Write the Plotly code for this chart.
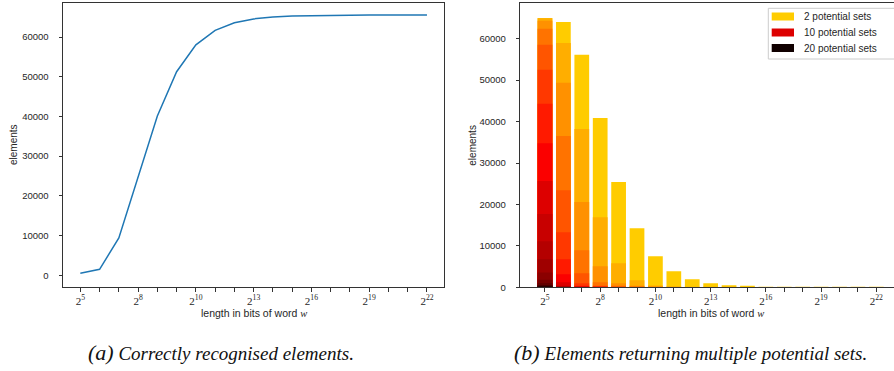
import plotly.graph_objects as go

W, H = 894, 371

# ---------------- data ----------------
positions = list(range(19))
tick_labels = ["2<sup>5</sup>", "", "", "2<sup>8</sup>", "", "", "2<sup>10</sup>", "", "",
               "2<sup>13</sup>", "", "", "2<sup>16</sup>", "", "", "2<sup>19</sup>", "", "", "2<sup>22</sup>"]

recognised = [536, 1500, 9400, 24650, 40130, 51270, 58040, 61670, 63600, 64570,
              65050, 65300, 65420, 65480, 65510, 65525, 65530, 65534, 65535]

# elements returning at least k potential sets (per word length)
ge_2 = [65000, 64030, 56130, 40890, 25400, 14270, 7500, 3870, 1940, 970, 480, 240, 120, 60, 30, 15, 8, 4, 2]
ge_3 = [64950, 59000, 38200, 16900, 5800, 1700, 450, 120, 30, 8, 2, 0, 0, 0, 0, 0, 0, 0, 0]
ge_4 = [64350, 49350, 20600, 5100, 950, 180, 25, 5, 1, 0, 0, 0, 0, 0, 0, 0, 0, 0, 0]
ge_5 = [62400, 36500, 8950, 1200, 150, 20, 2, 0, 0, 0, 0, 0, 0, 0, 0, 0, 0, 0, 0]
ge_6 = [58550, 23450, 3400, 250, 20, 2, 0, 0, 0, 0, 0, 0, 0, 0, 0, 0, 0, 0, 0]
ge_7 = [52500, 13300, 970, 50, 3, 0, 0, 0, 0, 0, 0, 0, 0, 0, 0, 0, 0, 0, 0]
ge_8 = [44300, 6770, 300, 10, 0, 0, 0, 0, 0, 0, 0, 0, 0, 0, 0, 0, 0, 0, 0]
ge_9 = [34800, 3140, 80, 2, 0, 0, 0, 0, 0, 0, 0, 0, 0, 0, 0, 0, 0, 0, 0]
ge_10 = [25650, 1210, 20, 0, 0, 0, 0, 0, 0, 0, 0, 0, 0, 0, 0, 0, 0, 0, 0]
ge_11 = [17700, 320, 5, 0, 0, 0, 0, 0, 0, 0, 0, 0, 0, 0, 0, 0, 0, 0, 0]
ge_12 = [11100, 90, 1, 0, 0, 0, 0, 0, 0, 0, 0, 0, 0, 0, 0, 0, 0, 0, 0]
ge_13 = [6750, 20, 0, 0, 0, 0, 0, 0, 0, 0, 0, 0, 0, 0, 0, 0, 0, 0, 0]
ge_14 = [3600, 5, 0, 0, 0, 0, 0, 0, 0, 0, 0, 0, 0, 0, 0, 0, 0, 0, 0]
ge_15 = [1850, 1, 0, 0, 0, 0, 0, 0, 0, 0, 0, 0, 0, 0, 0, 0, 0, 0, 0]
ge_16 = [1050, 0, 0, 0, 0, 0, 0, 0, 0, 0, 0, 0, 0, 0, 0, 0, 0, 0, 0]
ge_17 = [550, 0, 0, 0, 0, 0, 0, 0, 0, 0, 0, 0, 0, 0, 0, 0, 0, 0, 0]
ge_18 = [280, 0, 0, 0, 0, 0, 0, 0, 0, 0, 0, 0, 0, 0, 0, 0, 0, 0, 0]
ge_19 = [130, 0, 0, 0, 0, 0, 0, 0, 0, 0, 0, 0, 0, 0, 0, 0, 0, 0, 0]
ge_20 = [60, 0, 0, 0, 0, 0, 0, 0, 0, 0, 0, 0, 0, 0, 0, 0, 0, 0, 0]

set_counts = list(range(2, 21))
series = [ge_2, ge_3, ge_4, ge_5, ge_6, ge_7, ge_8, ge_9, ge_10, ge_11,
          ge_12, ge_13, ge_14, ge_15, ge_16, ge_17, ge_18, ge_19, ge_20]
legend_sets = [2, 10, 20]
y_ticks = [0, 10000, 20000, 30000, 40000, 50000, 60000]
y_tick_labels = ["0", "10000", "20000", "30000", "40000", "50000", "60000"]


# ---------------- style helpers ----------------
def hot_color(k):
    if k <= 10:
        t = 0.665 - (k - 2) * (0.665 - 0.316) / 8
    else:
        t = 0.316 - (k - 10) * (0.316 - 0.023) / 10
    r = min(1, max(0, t / 0.365))
    g = min(1, max(0, (t - 0.365) / 0.375))
    b = min(1, max(0, (t - 0.746) / 0.254))
    return "rgb(%d,%d,%d)" % (round(r * 255), round(g * 255), round(b * 255))


def px(x):
    return x / W


def py(y):
    return 1 - y / H


TXT = "#262626"
AX = "#333333"
SANS = "Liberation Sans, Arial, sans-serif"
SERIF = "Liberation Serif, DejaVu Serif, serif"

fig = go.Figure()

fig.add_trace(go.Scatter(x=positions, y=recognised, mode="lines",
                         line=dict(color="#1f77b4", width=1.5),
                         xaxis="x", yaxis="y", showlegend=False, hoverinfo="skip"))

for k, vals in zip(set_counts, series):
    fig.add_trace(go.Bar(x=positions, y=vals, width=0.8,
                         marker=dict(color=hot_color(k), line=dict(width=0)),
                         xaxis="x2", yaxis="y2", showlegend=False, hoverinfo="skip"))

common_x = dict(tickmode="array", tickvals=positions, ticktext=tick_labels,
                ticks="outside", ticklen=3.5, tickwidth=1, tickcolor=AX,
                showline=True, linecolor=AX, linewidth=1, showgrid=False, zeroline=False,
                automargin=False, ticklabeloverflow="allow",
                tickfont=dict(family=SERIF, size=11, color=TXT))
common_y = dict(tickmode="array", tickvals=y_ticks, ticktext=y_tick_labels,
                ticks="outside", ticklen=3.5, ticklabelstandoff=8,
                tickwidth=1, tickcolor=AX, showline=True, linecolor=AX, linewidth=1,
                showgrid=False, zeroline=False, automargin=False,
                tickfont=dict(family=SANS, size=9.5, color=TXT))

fig.update_layout(
    template="none",
    width=W, height=H, margin=dict(l=0, r=0, t=0, b=0, pad=0),
    paper_bgcolor="white", plot_bgcolor="white", barmode="overlay",
    xaxis=dict(domain=[px(63), px(444.3)], range=[-0.9, 18.9], mirror=True, anchor="y", **common_x),
    yaxis=dict(domain=[py(287), py(3.3)], range=[-2950, 68500], mirror=True, anchor="x", **common_y),
    xaxis2=dict(domain=[px(520.3), 1.0], range=[-1.34, 18.96], mirror=True, anchor="y2", **common_x),
    yaxis2=dict(domain=[py(287.3), py(2.7)], range=[0, 68700], mirror=False, anchor="x2", **common_y),
)

ann = []
ytitle_font = dict(family=SANS, size=10, color=TXT)
xtitle_font = dict(family=SANS, size=10.5, color=TXT)
wtxt = "length in bits of word <span style='font-family:Liberation Serif;font-style:italic'>w</span>"
ann.append(dict(x=px(13), y=py(145), xref="paper", yref="paper", text="elements", textangle=-90,
                showarrow=False, font=ytitle_font, xanchor="center", yanchor="middle"))
ann.append(dict(x=px(471.7), y=py(145), xref="paper", yref="paper", text="elements", textangle=-90,
                showarrow=False, font=ytitle_font, xanchor="center", yanchor="middle"))
ann.append(dict(x=px(253.6), y=py(313), xref="paper", yref="paper", text=wtxt,
                showarrow=False, font=xtitle_font, xanchor="center", yanchor="middle"))
ann.append(dict(x=px(710.5), y=py(313), xref="paper", yref="paper", text=wtxt,
                showarrow=False, font=xtitle_font, xanchor="center", yanchor="middle"))

cap_font = dict(family=SERIF, size=19, color="#111111")
ann.append(dict(x=px(221), y=py(352), xref="paper", yref="paper",
                text="<i><span style='font-size:22px'>(a)</span> Correctly recognised elements.</i>",
                showarrow=False, font=cap_font, xanchor="center", yanchor="middle"))
ann.append(dict(x=px(690), y=py(352), xref="paper", yref="paper",
                text="<i><span style='font-size:22px'>(b)</span> Elements returning multiple potential sets.</i>",
                showarrow=False, font=cap_font, xanchor="center", yanchor="middle"))

# legend (custom, matching the matplotlib patches)
shapes = [dict(type="rect", xref="paper", yref="paper", x0=px(768.3), x1=px(905),
               y0=py(59), y1=py(8.3), line=dict(color="#cccccc", width=1), fillcolor="white",
               layer="above")]
centers = [16.5, 32.5, 48.0]
for k, cy in zip(legend_sets, centers):
    shapes.append(dict(type="rect", xref="paper", yref="paper", x0=px(771.7), x1=px(794),
                       y0=py(cy + 4), y1=py(cy - 4), line=dict(width=0),
                       fillcolor=hot_color(k), layer="above"))
    ann.append(dict(x=px(802), y=py(cy), xref="paper", yref="paper",
                    text="%d potential sets" % k, showarrow=False,
                    font=dict(family=SANS, size=10, color=TXT), xanchor="left", yanchor="middle"))

fig.update_layout(annotations=ann, shapes=shapes)
fig.write_html("out.html", config={"displayModeBar": False},
               post_script="document.body.style.margin='0';document.body.style.overflow='hidden';")
